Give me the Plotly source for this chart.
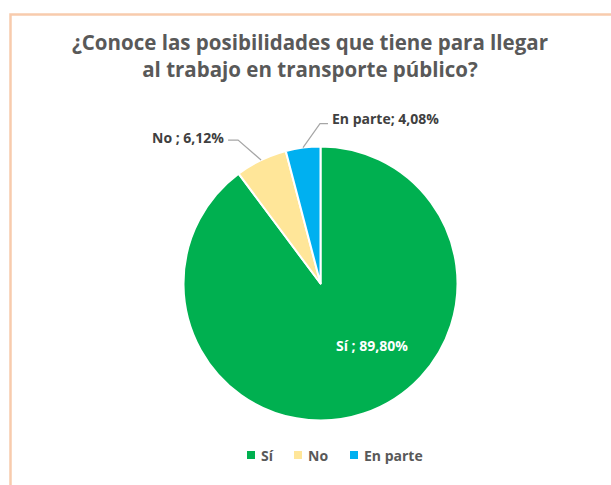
import math
import plotly.graph_objects as go

categories = ["Sí", "No", "En parte"]
values = [89.80, 6.12, 4.08]
label_texts = ["Sí ; 89,80%", "No ; 6,12%", "En parte; 4,08%"]
colors = ["#00B050", "#FFE699", "#00B0F0"]
title_text = "¿Conoce las posibilidades que tiene para llegar<br>al trabajo en transporte público?"

W, H = 611, 485
CX, CY, R = 320.5, 283.5, 137.0  # pie centre / radius in pixels

def px2paper(x, y):
    return x / W, 1 - y / H

dom_x = [(CX - R) / W, (CX + R) / W]
dom_y = [1 - (CY + R) / H, 1 - (CY - R) / H]

fig = go.Figure(go.Pie(
    labels=categories, values=values,
    marker=dict(colors=colors, line=dict(color="white", width=2)),
    sort=False, direction="clockwise", rotation=0,
    textinfo="none", hoverinfo="label+percent",
    domain=dict(x=dom_x, y=dom_y), showlegend=False,
))

# slice mid-angles (clockwise from 12 o'clock), from the data
total = sum(values)
mids = []
acc = 0
for v in values:
    mids.append((acc + v / 2) / total * 2 * math.pi)
    acc += v

def edge(theta, k=1.0):
    return CX + k * R * math.sin(theta), CY - k * R * math.cos(theta)

annotations = []
shapes = []

# inside label for the big slice
annotations.append(dict(
    x=(CX + 51) / W, y=1 - (CY + 62) / H, xref="paper", yref="paper",
    text="<b>" + label_texts[0] + "</b>", showarrow=False,
    font=dict(family="Open Sans", size=14, color="white"),
    xanchor="center", yanchor="middle"))

# outside labels with leader lines
leader_style = {
    1: dict(elbow=(-23, -20), horiz=-10, side="right", tdy=-3),
    2: dict(elbow=(17, -24), horiz=8, side="left", tdy=-5),
}
for i, st in leader_style.items():
    ex, ey = edge(mids[i], 1.0)
    bx, by = ex + st["elbow"][0], ey + st["elbow"][1]
    hx = bx + st["horiz"]
    p = [px2paper(ex, ey), px2paper(bx, by), px2paper(hx, by)]
    shapes.append(dict(
        type="path", xref="paper", yref="paper",
        path="M{},{} L{},{} L{},{}".format(p[0][0], p[0][1], p[1][0], p[1][1], p[2][0], p[2][1]),
        line=dict(color="#A6A6A6", width=1.2)))
    tx = hx + (-2 if st["side"] == "right" else 2)
    ax, ay = px2paper(tx, by + st["tdy"])
    annotations.append(dict(
        x=ax, y=ay, xref="paper", yref="paper",
        text="<b>" + label_texts[i] + "</b>", showarrow=False,
        font=dict(family="Open Sans", size=14, color="#404040"),
        xanchor="right" if st["side"] == "right" else "left", yanchor="middle"))

# custom legend (small squares + text), like the original
legend_y = 455
legend_sq_x = [247, 294, 350]   # left edge of each square (px)
sq = 8
for i, cat in enumerate(categories):
    x0 = legend_sq_x[i]
    a = px2paper(x0, legend_y - sq / 2)
    b = px2paper(x0 + sq, legend_y + sq / 2)
    shapes.append(dict(type="rect", xref="paper", yref="paper",
                       x0=a[0], x1=b[0], y0=b[1], y1=a[1],
                       fillcolor=colors[i], line=dict(width=0)))
    t = px2paper(x0 + sq + 4, legend_y)
    annotations.append(dict(
        x=t[0], y=t[1], xref="paper", yref="paper", text="<b>" + cat + "</b>", showarrow=False,
        xanchor="left", yanchor="middle",
        font=dict(family="Open Sans", size=14, color="#595959")))

# chart-area border (light orange), extends past right/bottom edges
shapes.append(dict(type="rect", xref="paper", yref="paper",
                   x0=10.5 / W, y0=-0.05, x1=1.05, y1=1 - 14.5 / H,
                   line=dict(color="#F8CBAD", width=2.5), layer="above"))

fig.update_layout(
    width=W, height=H,
    margin=dict(l=0, r=0, t=0, b=0),
    paper_bgcolor="white", plot_bgcolor="white",
    title=dict(text="<b>" + title_text + "</b>", x=310 / W, xanchor="center",
               y=1 - 50 / H, yanchor="top",
               font=dict(family="Open Sans", size=20.5, color="#595959")),
    showlegend=False,
    annotations=annotations, shapes=shapes,
)

fig.write_html("out.html", config={"displayModeBar": False},
               post_script="document.body.style.margin='0';")
